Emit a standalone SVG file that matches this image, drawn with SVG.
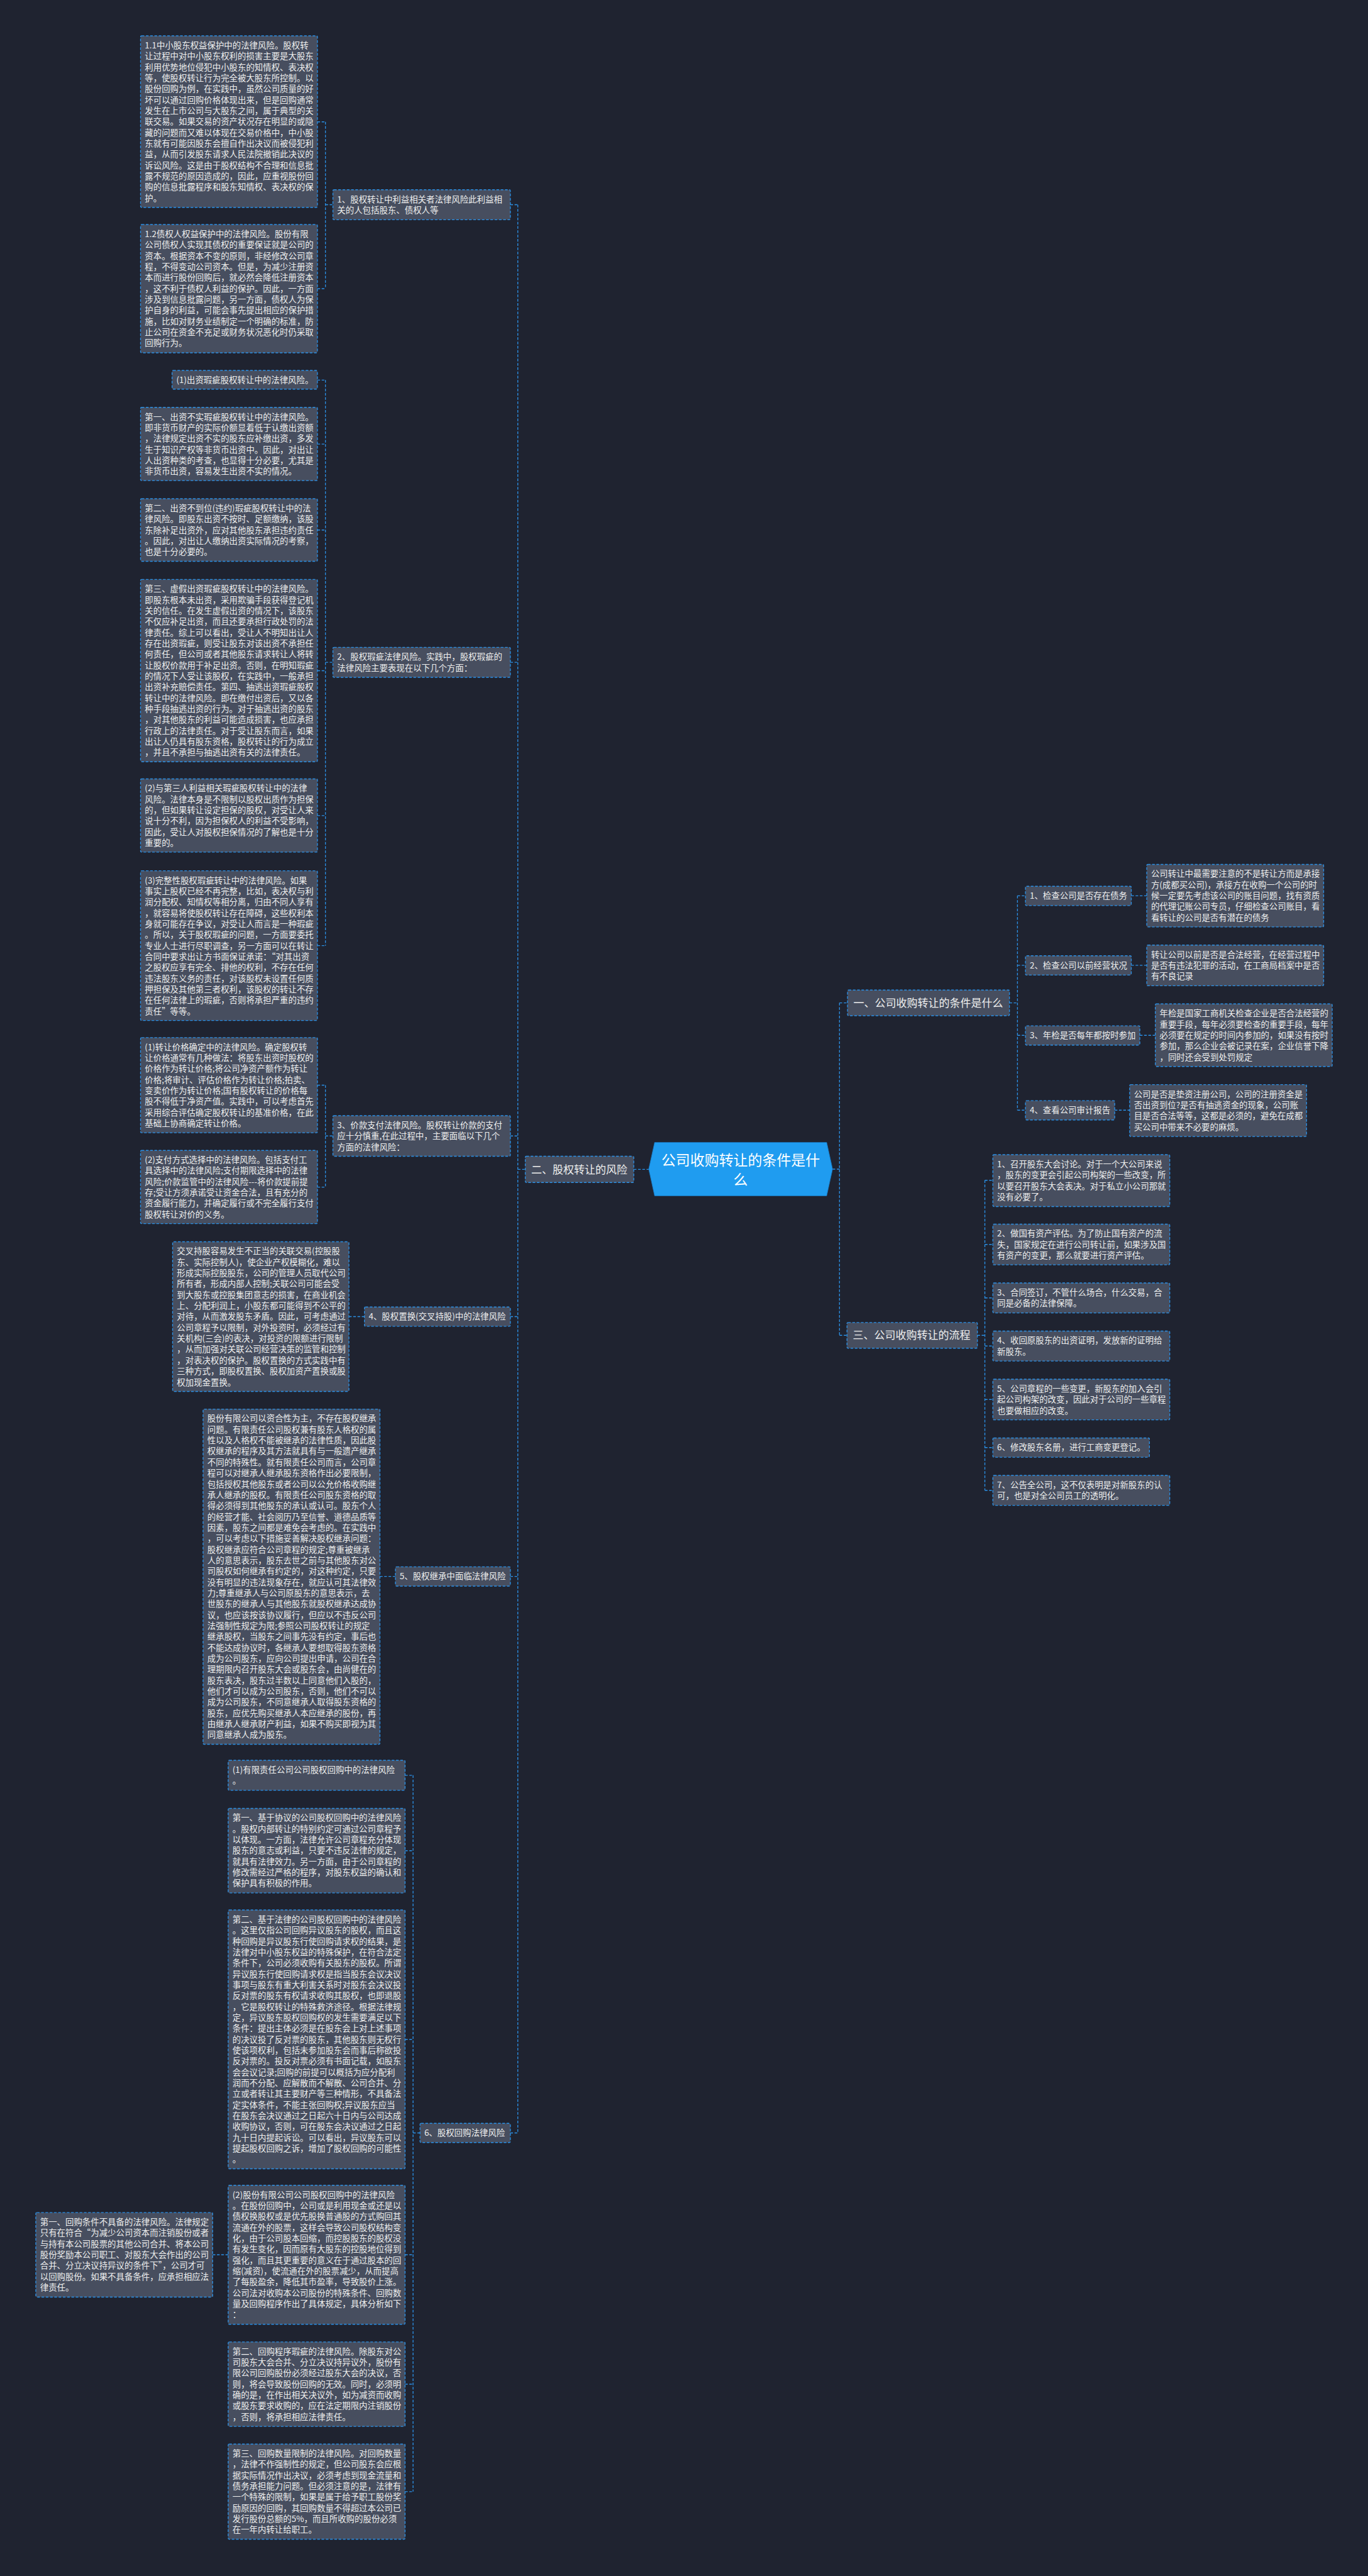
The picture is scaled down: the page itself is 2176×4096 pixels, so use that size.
<svg xmlns="http://www.w3.org/2000/svg" width="2176" height="4096" viewBox="0 0 2176 4096">
<style>
.box{fill:#474e5f;stroke:#2b8fe3;stroke-width:1.6;stroke-dasharray:5 3}
.t{font-family:"Noto Sans CJK SC","Microsoft YaHei",sans-serif;font-size:15.8px;fill:#eeeeee}
.t2{font-family:"Noto Sans CJK SC","Microsoft YaHei",sans-serif;font-size:20px;fill:#eeeeee}
.tc{font-family:"Noto Sans CJK SC","Microsoft YaHei",sans-serif;font-size:27px;fill:#ffffff}
.c{fill:none;stroke:#2b8fe3;stroke-width:1.6;stroke-dasharray:5 3}
</style>
<rect width="2176" height="4096" fill="#1f2330"/>
<g transform="scale(0.85)">
<g id="connectors">
<path class="c" d="M955 383H969M969 383V3990M955 1239H969M955 2125H969M955 2463H969M955 2949H969M955 3990H969M969 2187.5H983M1186 2187.5H1214"/>
<path class="c" d="M594 228H609M609 228V540M594 540H609M609 383H623"/>
<path class="c" d="M594 711H609M609 711V1769M594 830.7H609M594 991.5H609M594 1254.7H609M594 1525.7H609M594 1769H609M609 1239H623"/>
<path class="c" d="M594 2030H609M609 2030V2220.7M594 2220.7H609M609 2125H623"/>
<path class="c" d="M653 2463H682M711 2949H740"/>
<path class="c" d="M758 3321H773M773 3321V4661M758 3462H773M758 3815H773M758 4218H773M758 4460H773M758 4661H773M773 3990H786M398 4218H427"/>
<path class="c" d="M1558 2187H1571M1571 1876V2498M1571 1876H1586M1571 2498H1585"/>
<path class="c" d="M1889 1876H1904M1904 1675.7V2076.7M1904 1675.7H1919M1904 1805.7H1919M1904 1936.7H1919M1904 2076.7H1919M2117 1675.7H2146M2117 1805.7H2146M2133 1936.7H2162M2086 2076.7H2114"/>
<path class="c" d="M1829 2498H1843M1843 2208V2788M1843 2208H1858M1843 2328H1858M1843 2428H1858M1843 2518H1858M1843 2618H1858M1843 2708H1858M1843 2788H1858"/>
</g>

<g id="center">
<polygon points="1214,2187 1225,2137 1547,2137 1558,2187 1547,2237 1225,2237" fill="#1f9cf0" stroke="#1a78c0" stroke-width="1"/>
<text class="tc" x="1386" y="2180" text-anchor="middle"><tspan x="1386">公司收购转让的条件是什</tspan><tspan x="1386" dy="36">么</tspan></text>
</g>

<g id="n-er"><rect class="box" x="983" y="2163" width="203" height="49" rx="2"/><text class="t2" x="994" y="2195">二、股权转让的风险</text></g>
<g id="n-yi"><rect class="box" x="1586" y="1852" width="303" height="48" rx="2"/><text class="t2" x="1597" y="1883">一、公司收购转让的条件是什么</text></g>
<g id="n-san"><rect class="box" x="1585" y="2474" width="244" height="48" rx="2"/><text class="t2" x="1596" y="2505">三、公司收购转让的流程</text></g>

<g id="L1"><rect class="box" x="623" y="355" width="332" height="56" rx="2"/><text class="t" x="631" y="378.4"><tspan x="631">1、股权转让中利益相关者法律风险此利益相</tspan><tspan x="631" dy="20.4">关的人包括股东、债权人等</tspan></text></g>
<g id="L2"><rect class="box" x="623" y="1211" width="332" height="56" rx="2"/><text class="t" x="631" y="1234.4"><tspan x="631">2、股权瑕疵法律风险。实践中，股权瑕疵的</tspan><tspan x="631" dy="20.4">法律风险主要表现在以下几个方面：</tspan></text></g>
<g id="L3"><rect class="box" x="623" y="2087" width="332" height="76" rx="2"/><text class="t" x="631" y="2110.4"><tspan x="631">3、价款支付法律风险。股权转让价款的支付</tspan><tspan x="631" dy="20.4">应十分慎重,在此过程中，主要面临以下几个</tspan><tspan x="631" dy="20.4">方面的法律风险：</tspan></text></g>
<g id="L4"><rect class="box" x="682" y="2445" width="273" height="36" rx="2"/><text class="t" x="690" y="2468.4">4、股权置换(交叉持股)中的法律风险</text></g>
<g id="L5"><rect class="box" x="740" y="2931" width="215" height="36" rx="2"/><text class="t" x="748" y="2954.4">5、股权继承中面临法律风险</text></g>
<g id="L6"><rect class="box" x="786" y="3972" width="169" height="36" rx="2"/><text class="t" x="794" y="3995.4">6、股权回购法律风险</text></g>

<g id="b11"><rect class="box" x="263" y="67" width="331" height="321" rx="2"/><text class="t" x="271" y="90.4"><tspan x="271">1.1中小股东权益保护中的法律风险。股权转</tspan><tspan x="271" dy="20.4">让过程中对中小股东权利的损害主要是大股东</tspan><tspan x="271" dy="20.4">利用优势地位侵犯中小股东的知情权、表决权</tspan><tspan x="271" dy="20.4">等，使股权转让行为完全被大股东所控制。以</tspan><tspan x="271" dy="20.4">股份回购为例，在实践中，虽然公司质量的好</tspan><tspan x="271" dy="20.4">坏可以通过回购价格体现出来，但是回购通常</tspan><tspan x="271" dy="20.4">发生在上市公司与大股东之间，属于典型的关</tspan><tspan x="271" dy="20.4">联交易。如果交易的资产状况存在明显的或隐</tspan><tspan x="271" dy="20.4">藏的问题而又难以体现在交易价格中，中小股</tspan><tspan x="271" dy="20.4">东就有可能因股东会擅自作出决议而被侵犯利</tspan><tspan x="271" dy="20.4">益，从而引发股东请求人民法院撤销此决议的</tspan><tspan x="271" dy="20.4">诉讼风险。这是由于股权结构不合理和信息批</tspan><tspan x="271" dy="20.4">露不规范的原因造成的，因此，应重视股份回</tspan><tspan x="271" dy="20.4">购的信息批露程序和股东知情权、表决权的保</tspan><tspan x="271" dy="20.4">护。</tspan></text></g>

<g id="b12"><rect class="box" x="263" y="420" width="331" height="240" rx="2"/><text class="t" x="271" y="443.4"><tspan x="271">1.2债权人权益保护中的法律风险。股份有限</tspan><tspan x="271" dy="20.4">公司债权人实现其债权的重要保证就是公司的</tspan><tspan x="271" dy="20.4">资本。根据资本不变的原则，非经修改公司章</tspan><tspan x="271" dy="20.4">程，不得变动公司资本。但是，为减少注册资</tspan><tspan x="271" dy="20.4">本而进行股份回购后，就必然会降低注册资本</tspan><tspan x="271" dy="20.4">，这不利于债权人利益的保护。因此，一方面</tspan><tspan x="271" dy="20.4">涉及到信息批露问题，另一方面，债权人为保</tspan><tspan x="271" dy="20.4">护自身的利益，可能会事先提出相应的保护措</tspan><tspan x="271" dy="20.4">施，比如对财务业绩制定一个明确的标准，防</tspan><tspan x="271" dy="20.4">止公司在资金不充足或财务状况恶化时仍采取</tspan><tspan x="271" dy="20.4">回购行为。</tspan></text></g>

<g id="b21"><rect class="box" x="322" y="693" width="272" height="35" rx="2"/><text class="t" x="330" y="716.4">(1)出资瑕疵股权转让中的法律风险。</text></g>

<g id="b22"><rect class="box" x="263" y="762" width="331" height="137" rx="2"/><text class="t" x="271" y="785.4"><tspan x="271">第一、出资不实瑕疵股权转让中的法律风险。</tspan><tspan x="271" dy="20.4">即非货币财产的实际价额显着低于认缴出资额</tspan><tspan x="271" dy="20.4">，法律规定出资不实的股东应补缴出资，多发</tspan><tspan x="271" dy="20.4">生于知识产权等非货币出资中。因此，对出让</tspan><tspan x="271" dy="20.4">人出资种类的考查，也显得十分必要，尤其是</tspan><tspan x="271" dy="20.4">非货币出资，容易发生出资不实的情况。</tspan></text></g>

<g id="b23"><rect class="box" x="263" y="933" width="331" height="117" rx="2"/><text class="t" x="271" y="956.4"><tspan x="271">第二、出资不到位(违约)瑕疵股权转让中的法</tspan><tspan x="271" dy="20.4">律风险。即股东出资不按时、足额缴纳，该股</tspan><tspan x="271" dy="20.4">东除补足出资外，应对其他股东承担违约责任</tspan><tspan x="271" dy="20.4">。因此，对出让人缴纳出资实际情况的考察，</tspan><tspan x="271" dy="20.4">也是十分必要的。</tspan></text></g>

<g id="b24"><rect class="box" x="263" y="1084" width="331" height="341" rx="2"/><text class="t" x="271" y="1107.4"><tspan x="271">第三、虚假出资瑕疵股权转让中的法律风险。</tspan><tspan x="271" dy="20.4">即股东根本未出资，采用欺骗手段获得登记机</tspan><tspan x="271" dy="20.4">关的信任。在发生虚假出资的情况下，该股东</tspan><tspan x="271" dy="20.4">不仅应补足出资，而且还要承担行政处罚的法</tspan><tspan x="271" dy="20.4">律责任。综上可以看出，受让人不明知出让人</tspan><tspan x="271" dy="20.4">存在出资瑕疵，则受让股东对该出资不承担任</tspan><tspan x="271" dy="20.4">何责任，但公司或者其他股东请求转让人将转</tspan><tspan x="271" dy="20.4">让股权价款用于补足出资。否则，在明知瑕疵</tspan><tspan x="271" dy="20.4">的情况下人受让该股权，在实践中，一般承担</tspan><tspan x="271" dy="20.4">出资补充赔偿责任。第四、抽逃出资瑕疵股权</tspan><tspan x="271" dy="20.4">转让中的法律风险。即在缴付出资后，又以各</tspan><tspan x="271" dy="20.4">种手段抽逃出资的行为。对于抽逃出资的股东</tspan><tspan x="271" dy="20.4">，对其他股东的利益可能造成损害，也应承担</tspan><tspan x="271" dy="20.4">行政上的法律责任。对于受让股东而言，如果</tspan><tspan x="271" dy="20.4">出让人仍具有股东资格，股权转让的行为成立</tspan><tspan x="271" dy="20.4">，并且不承担与抽逃出资有关的法律责任。</tspan></text></g>

<g id="b25"><rect class="box" x="263" y="1457" width="331" height="137" rx="2"/><text class="t" x="271" y="1480.4"><tspan x="271">(2)与第三人利益相关瑕疵股权转让中的法律</tspan><tspan x="271" dy="20.4">风险。法律本身是不限制以股权出质作为担保</tspan><tspan x="271" dy="20.4">的，但如果转让设定担保的股权，对受让人来</tspan><tspan x="271" dy="20.4">说十分不利，因为担保权人的利益不受影响，</tspan><tspan x="271" dy="20.4">因此，受让人对股权担保情况的了解也是十分</tspan><tspan x="271" dy="20.4">重要的。</tspan></text></g>

<g id="b26"><rect class="box" x="263" y="1629" width="331" height="280" rx="2"/><text class="t" x="271" y="1652.4"><tspan x="271">(3)完整性股权瑕疵转让中的法律风险。如果</tspan><tspan x="271" dy="20.4">事实上股权已经不再完整，比如，表决权与利</tspan><tspan x="271" dy="20.4">润分配权、知情权等相分离，归由不同人享有</tspan><tspan x="271" dy="20.4">，就容易将使股权转让存在障碍，这些权利本</tspan><tspan x="271" dy="20.4">身就可能存在争议，对受让人而言是一种瑕疵</tspan><tspan x="271" dy="20.4">。所以，关于股权瑕疵的问题，一方面要委托</tspan><tspan x="271" dy="20.4">专业人士进行尽职调查，另一方面可以在转让</tspan><tspan x="271" dy="20.4">合同中要求出让方书面保证承诺：“对其出资</tspan><tspan x="271" dy="20.4">之股权应享有完全、排他的权利，不存在任何</tspan><tspan x="271" dy="20.4">违法股东义务的责任，对该股权未设置任何质</tspan><tspan x="271" dy="20.4">押担保及其他第三者权利，该股权的转让不存</tspan><tspan x="271" dy="20.4">在任何法律上的瑕疵，否则将承担严重的违约</tspan><tspan x="271" dy="20.4">责任”等等。</tspan></text></g>

<g id="b31"><rect class="box" x="263" y="1941" width="331" height="178" rx="2"/><text class="t" x="271" y="1964.4"><tspan x="271">(1)转让价格确定中的法律风险。确定股权转</tspan><tspan x="271" dy="20.4">让价格通常有几种做法：将股东出资时股权的</tspan><tspan x="271" dy="20.4">价格作为转让价格;将公司净资产额作为转让</tspan><tspan x="271" dy="20.4">价格;将审计、评估价格作为转让价格;拍卖、</tspan><tspan x="271" dy="20.4">变卖价作为转让价格;国有股权转让的价格每</tspan><tspan x="271" dy="20.4">股不得低于净资产值。实践中，可以考虑首先</tspan><tspan x="271" dy="20.4">采用综合评估确定股权转让的基准价格，在此</tspan><tspan x="271" dy="20.4">基础上协商确定转让价格。</tspan></text></g>

<g id="b32"><rect class="box" x="263" y="2152" width="331" height="137" rx="2"/><text class="t" x="271" y="2175.4"><tspan x="271">(2)支付方式选择中的法律风险。包括支付工</tspan><tspan x="271" dy="20.4">具选择中的法律风险;支付期限选择中的法律</tspan><tspan x="271" dy="20.4">风险;价款监管中的法律风险---将价款提前提</tspan><tspan x="271" dy="20.4">存;受让方须承诺受让资金合法，且有充分的</tspan><tspan x="271" dy="20.4">资金履行能力，并确定履行或不完全履行支付</tspan><tspan x="271" dy="20.4">股权转让对价的义务。</tspan></text></g>

<g id="b41"><rect class="box" x="323" y="2323" width="330" height="280" rx="2"/><text class="t" x="331" y="2346.4"><tspan x="331">交叉持股容易发生不正当的关联交易(控股股</tspan><tspan x="331" dy="20.4">东、实际控制人)，使企业产权模糊化，难以</tspan><tspan x="331" dy="20.4">形成实际控股股东，公司的管理人员取代公司</tspan><tspan x="331" dy="20.4">所有者，形成内部人控制;关联公司可能会受</tspan><tspan x="331" dy="20.4">到大股东或控股集团意志的损害，在商业机会</tspan><tspan x="331" dy="20.4">上、分配利润上，小股东都可能得到不公平的</tspan><tspan x="331" dy="20.4">对待，从而激发股东矛盾。因此，可考虑通过</tspan><tspan x="331" dy="20.4">公司章程予以限制，对外投资时，必须经过有</tspan><tspan x="331" dy="20.4">关机构(三会)的表决，对投资的限额进行限制</tspan><tspan x="331" dy="20.4">，从而加强对关联公司经营决策的监管和控制</tspan><tspan x="331" dy="20.4">，对表决权的保护。股权置换的方式实践中有</tspan><tspan x="331" dy="20.4">三种方式，即股权置换、股权加资产置换或股</tspan><tspan x="331" dy="20.4">权加现金置换。</tspan></text></g>

<g id="b51"><rect class="box" x="380" y="2636" width="331" height="627" rx="2"/><text class="t" x="388" y="2659.4"><tspan x="388">股份有限公司以资合性为主，不存在股权继承</tspan><tspan x="388" dy="20.4">问题。有限责任公司股权兼有股东人格权的属</tspan><tspan x="388" dy="20.4">性以及人格权不能被继承的法律性质，因此股</tspan><tspan x="388" dy="20.4">权继承的程序及其方法就具有与一般遗产继承</tspan><tspan x="388" dy="20.4">不同的特殊性。就有限责任公司而言，公司章</tspan><tspan x="388" dy="20.4">程可以对继承人继承股东资格作出必要限制，</tspan><tspan x="388" dy="20.4">包括授权其他股东或者公司以公允价格收购继</tspan><tspan x="388" dy="20.4">承人继承的股权。有限责任公司股东资格的取</tspan><tspan x="388" dy="20.4">得必须得到其他股东的承认或认可。股东个人</tspan><tspan x="388" dy="20.4">的经营才能、社会阅历乃至信誉、道德品质等</tspan><tspan x="388" dy="20.4">因素，股东之间都是难免会考虑的。在实践中</tspan><tspan x="388" dy="20.4">，可以考虑以下措施妥善解决股权继承问题：</tspan><tspan x="388" dy="20.4">股权继承应符合公司章程的规定;尊重被继承</tspan><tspan x="388" dy="20.4">人的意思表示，股东去世之前与其他股东对公</tspan><tspan x="388" dy="20.4">司股权如何继承有约定的，对这种约定，只要</tspan><tspan x="388" dy="20.4">没有明显的违法现象存在，就应认可其法律效</tspan><tspan x="388" dy="20.4">力;尊重继承人与公司原股东的意思表示，去</tspan><tspan x="388" dy="20.4">世股东的继承人与其他股东就股权继承达成协</tspan><tspan x="388" dy="20.4">议，也应该按该协议履行，但应以不违反公司</tspan><tspan x="388" dy="20.4">法强制性规定为限;参照公司股权转让的规定</tspan><tspan x="388" dy="20.4">继承股权，当股东之间事先没有约定，事后也</tspan><tspan x="388" dy="20.4">不能达成协议时，各继承人要想取得股东资格</tspan><tspan x="388" dy="20.4">成为公司股东，应向公司提出申请，公司在合</tspan><tspan x="388" dy="20.4">理期限内召开股东大会或股东会，由尚健在的</tspan><tspan x="388" dy="20.4">股东表决，股东过半数以上同意他们入股的，</tspan><tspan x="388" dy="20.4">他们才可以成为公司股东，否则，他们不可以</tspan><tspan x="388" dy="20.4">成为公司股东，不同意继承人取得股东资格的</tspan><tspan x="388" dy="20.4">股东，应优先购买继承人本应继承的股份，再</tspan><tspan x="388" dy="20.4">由继承人继承财产利益，如果不购买即视为其</tspan><tspan x="388" dy="20.4">同意继承人成为股东。</tspan></text></g>

<g id="b61"><rect class="box" x="427" y="3293" width="331" height="56" rx="2"/><text class="t" x="435" y="3316.4"><tspan x="435">(1)有限责任公司公司股权回购中的法律风险</tspan><tspan x="435" dy="20.4">。</tspan></text></g>

<g id="b62"><rect class="box" x="427" y="3383" width="331" height="158" rx="2"/><text class="t" x="435" y="3406.4"><tspan x="435">第一、基于协议的公司股权回购中的法律风险</tspan><tspan x="435" dy="20.4">。股权内部转让的特别约定可通过公司章程予</tspan><tspan x="435" dy="20.4">以体现。一方面，法律允许公司章程充分体现</tspan><tspan x="435" dy="20.4">股东的意志或利益，只要不违反法律的规定，</tspan><tspan x="435" dy="20.4">就具有法律效力。另一方面，由于公司章程的</tspan><tspan x="435" dy="20.4">修改需经过严格的程序，对股东权益的确认和</tspan><tspan x="435" dy="20.4">保护具有积极的作用。</tspan></text></g>

<g id="b63"><rect class="box" x="427" y="3573" width="331" height="484" rx="2"/><text class="t" x="435" y="3596.4"><tspan x="435">第二、基于法律的公司股权回购中的法律风险</tspan><tspan x="435" dy="20.4">。这里仅指公司回购异议股东的股权，而且这</tspan><tspan x="435" dy="20.4">种回购是异议股东行使回购请求权的结果，是</tspan><tspan x="435" dy="20.4">法律对中小股东权益的特殊保护，在符合法定</tspan><tspan x="435" dy="20.4">条件下，公司必须收购有关股东的股权。所谓</tspan><tspan x="435" dy="20.4">异议股东行使回购请求权是指当股东会议决议</tspan><tspan x="435" dy="20.4">事项与股东有重大利害关系时对股东会决议投</tspan><tspan x="435" dy="20.4">反对票的股东有权请求收购其股权，也即退股</tspan><tspan x="435" dy="20.4">，它是股权转让的特殊救济途径。根据法律规</tspan><tspan x="435" dy="20.4">定，异议股东股权回购权的发生需要满足以下</tspan><tspan x="435" dy="20.4">条件：提出主体必须是在股东会上对上述事项</tspan><tspan x="435" dy="20.4">的决议投了反对票的股东，其他股东则无权行</tspan><tspan x="435" dy="20.4">使该项权利，包括未参加股东会而事后称欲投</tspan><tspan x="435" dy="20.4">反对票的。投反对票必须有书面记载，如股东</tspan><tspan x="435" dy="20.4">会会议记录;回购的前提可以概括为应分配利</tspan><tspan x="435" dy="20.4">润而不分配、应解散而不解散、公司合并、分</tspan><tspan x="435" dy="20.4">立或者转让其主要财产等三种情形，不具备法</tspan><tspan x="435" dy="20.4">定实体条件，不能主张回购权;异议股东应当</tspan><tspan x="435" dy="20.4">在股东会决议通过之日起六十日内与公司达成</tspan><tspan x="435" dy="20.4">收购协议，否则，可在股东会决议通过之日起</tspan><tspan x="435" dy="20.4">九十日内提起诉讼。可以看出，异议股东可以</tspan><tspan x="435" dy="20.4">提起股权回购之诉，增加了股权回购的可能性</tspan><tspan x="435" dy="20.4">。</tspan></text></g>

<g id="b64"><rect class="box" x="427" y="4088" width="331" height="260" rx="2"/><text class="t" x="435" y="4111.4"><tspan x="435">(2)股份有限公司公司股权回购中的法律风险</tspan><tspan x="435" dy="20.4">。在股份回购中，公司或是利用现金或还是以</tspan><tspan x="435" dy="20.4">债权换股权或是优先股换普通股的方式购回其</tspan><tspan x="435" dy="20.4">流通在外的股票，这样会导致公司股权结构变</tspan><tspan x="435" dy="20.4">化，由于公司股本回缩，而控股股东的股权没</tspan><tspan x="435" dy="20.4">有发生变化，因而原有大股东的控股地位得到</tspan><tspan x="435" dy="20.4">强化，而且其更重要的意义在于通过股本的回</tspan><tspan x="435" dy="20.4">缩(减资)，使流通在外的股票减少，从而提高</tspan><tspan x="435" dy="20.4">了每股盈余，降低其市盈率，导致股价上涨。</tspan><tspan x="435" dy="20.4">公司法对收购本公司股份的特殊条件、回购数</tspan><tspan x="435" dy="20.4">量及回购程序作出了具体规定，具体分析如下</tspan><tspan x="435" dy="20.4">：</tspan></text></g>

<g id="b65"><rect class="box" x="67" y="4139" width="331" height="158" rx="2"/><text class="t" x="75" y="4162.4"><tspan x="75">第一、回购条件不具备的法律风险。法律规定</tspan><tspan x="75" dy="20.4">只有在符合“为减少公司资本而注销股份或者</tspan><tspan x="75" dy="20.4">与持有本公司股票的其他公司合并、将本公司</tspan><tspan x="75" dy="20.4">股份奖励本公司职工、对股东大会作出的公司</tspan><tspan x="75" dy="20.4">合并、分立决议持异议的条件下”，公司才可</tspan><tspan x="75" dy="20.4">以回购股份。如果不具备条件，应承担相应法</tspan><tspan x="75" dy="20.4">律责任。</tspan></text></g>

<g id="b66"><rect class="box" x="427" y="4381" width="331" height="158" rx="2"/><text class="t" x="435" y="4404.4"><tspan x="435">第二、回购程序瑕疵的法律风险。除股东对公</tspan><tspan x="435" dy="20.4">司股东大会合并、分立决议持异议外，股份有</tspan><tspan x="435" dy="20.4">限公司回购股份必须经过股东大会的决议，否</tspan><tspan x="435" dy="20.4">则，将会导致股份回购的无效。同时，必须明</tspan><tspan x="435" dy="20.4">确的是，在作出相关决议外，如为减资而收购</tspan><tspan x="435" dy="20.4">或股东要求收购的，应在法定期限内注销股份</tspan><tspan x="435" dy="20.4">，否则，将承担相应法律责任。</tspan></text></g>

<g id="b67"><rect class="box" x="427" y="4572" width="331" height="178" rx="2"/><text class="t" x="435" y="4595.4"><tspan x="435">第三、回购数量限制的法律风险。对回购数量</tspan><tspan x="435" dy="20.4">，法律不作强制性的规定，但公司股东会应根</tspan><tspan x="435" dy="20.4">据实际情况作出决议，必须考虑到现金流量和</tspan><tspan x="435" dy="20.4">债务承担能力问题。但必须注意的是，法律有</tspan><tspan x="435" dy="20.4">一个特殊的限制，如果是属于给予职工股份奖</tspan><tspan x="435" dy="20.4">励原因的回购，其回购数量不得超过本公司已</tspan><tspan x="435" dy="20.4">发行股份总额的5%，而且所收购的股份必须</tspan><tspan x="435" dy="20.4">在一年内转让给职工。</tspan></text></g>

<g id="i1"><rect class="box" x="1919" y="1658" width="198" height="36" rx="2"/><text class="t" x="1927" y="1681.4">1、检查公司是否存在债务</text></g>
<g id="i2"><rect class="box" x="1919" y="1788" width="198" height="36" rx="2"/><text class="t" x="1927" y="1811.4">2、检查公司以前经营状况</text></g>
<g id="i3"><rect class="box" x="1919" y="1919" width="214" height="36" rx="2"/><text class="t" x="1927" y="1942.4">3、年检是否每年都按时参加</text></g>
<g id="i4"><rect class="box" x="1919" y="2059" width="167" height="36" rx="2"/><text class="t" x="1927" y="2082.4">4、查看公司审计报告</text></g>

<g id="c1"><rect class="box" x="2146" y="1617" width="331" height="117" rx="2"/><text class="t" x="2154" y="1640.4"><tspan x="2154">公司转让中最需要注意的不是转让方而是承接</tspan><tspan x="2154" dy="20.4">方(成都买公司)，承接方在收购一个公司的时</tspan><tspan x="2154" dy="20.4">候一定要先考虑该公司的账目问题，找有资质</tspan><tspan x="2154" dy="20.4">的代理记账公司专员，仔细检查公司账目，看</tspan><tspan x="2154" dy="20.4">看转让的公司是否有潜在的债务</tspan></text></g>
<g id="c2"><rect class="box" x="2146" y="1768" width="331" height="76" rx="2"/><text class="t" x="2154" y="1791.4"><tspan x="2154">转让公司以前是否是合法经营，在经营过程中</tspan><tspan x="2154" dy="20.4">是否有违法犯罪的活动，在工商局档案中是否</tspan><tspan x="2154" dy="20.4">有不良记录</tspan></text></g>
<g id="c3"><rect class="box" x="2162" y="1878" width="331" height="117" rx="2"/><text class="t" x="2170" y="1901.4"><tspan x="2170">年检是国家工商机关检查企业是否合法经营的</tspan><tspan x="2170" dy="20.4">重要手段，每年必须要检查的重要手段，每年</tspan><tspan x="2170" dy="20.4">必须要在规定的时间内参加的，如果没有按时</tspan><tspan x="2170" dy="20.4">参加，那么企业会被记录在案，企业信誉下降</tspan><tspan x="2170" dy="20.4">，同时还会受到处罚规定</tspan></text></g>
<g id="c4"><rect class="box" x="2114" y="2029" width="331" height="97" rx="2"/><text class="t" x="2122" y="2052.4"><tspan x="2122">公司是否是垫资注册公司，公司的注册资金是</tspan><tspan x="2122" dy="20.4">否出资到位?是否有抽逃资金的现象，公司账</tspan><tspan x="2122" dy="20.4">目是否合法等等，这都是必须的，避免在成都</tspan><tspan x="2122" dy="20.4">买公司中带来不必要的麻烦。</tspan></text></g>

<g id="t1"><rect class="box" x="1858" y="2160" width="331" height="97" rx="2"/><text class="t" x="1866" y="2183.4"><tspan x="1866">1、召开股东大会讨论。对于一个大公司来说</tspan><tspan x="1866" dy="20.4">，股东的变更会引起公司构架的一些改变，所</tspan><tspan x="1866" dy="20.4">以要召开股东大会表决。对于私立小公司那就</tspan><tspan x="1866" dy="20.4">没有必要了。</tspan></text></g>
<g id="t2"><rect class="box" x="1858" y="2290" width="331" height="76" rx="2"/><text class="t" x="1866" y="2313.4"><tspan x="1866">2、做国有资产评估。为了防止国有资产的流</tspan><tspan x="1866" dy="20.4">失，国家规定在进行公司转让前，如果涉及国</tspan><tspan x="1866" dy="20.4">有资产的变更，那么就要进行资产评估。</tspan></text></g>
<g id="t3"><rect class="box" x="1858" y="2400" width="331" height="56" rx="2"/><text class="t" x="1866" y="2423.4"><tspan x="1866">3、合同签订，不管什么场合，什么交易，合</tspan><tspan x="1866" dy="20.4">同是必备的法律保障。</tspan></text></g>
<g id="t4"><rect class="box" x="1858" y="2490" width="331" height="56" rx="2"/><text class="t" x="1866" y="2513.4"><tspan x="1866">4、收回原股东的出资证明，发放新的证明给</tspan><tspan x="1866" dy="20.4">新股东。</tspan></text></g>
<g id="t5"><rect class="box" x="1858" y="2580" width="331" height="76" rx="2"/><text class="t" x="1866" y="2603.4"><tspan x="1866">5、公司章程的一些变更，新股东的加入会引</tspan><tspan x="1866" dy="20.4">起公司构架的改变，因此对于公司的一些章程</tspan><tspan x="1866" dy="20.4">也要做相应的改变。</tspan></text></g>
<g id="t6"><rect class="box" x="1858" y="2690" width="293" height="36" rx="2"/><text class="t" x="1866" y="2713.4">6、修改股东名册，进行工商变更登记。</text></g>
<g id="t7"><rect class="box" x="1858" y="2760" width="331" height="56" rx="2"/><text class="t" x="1866" y="2783.4"><tspan x="1866">7、公告全公司，这不仅表明是对新股东的认</tspan><tspan x="1866" dy="20.4">可，也是对全公司员工的透明化。</tspan></text></g>
</g>
</svg>
